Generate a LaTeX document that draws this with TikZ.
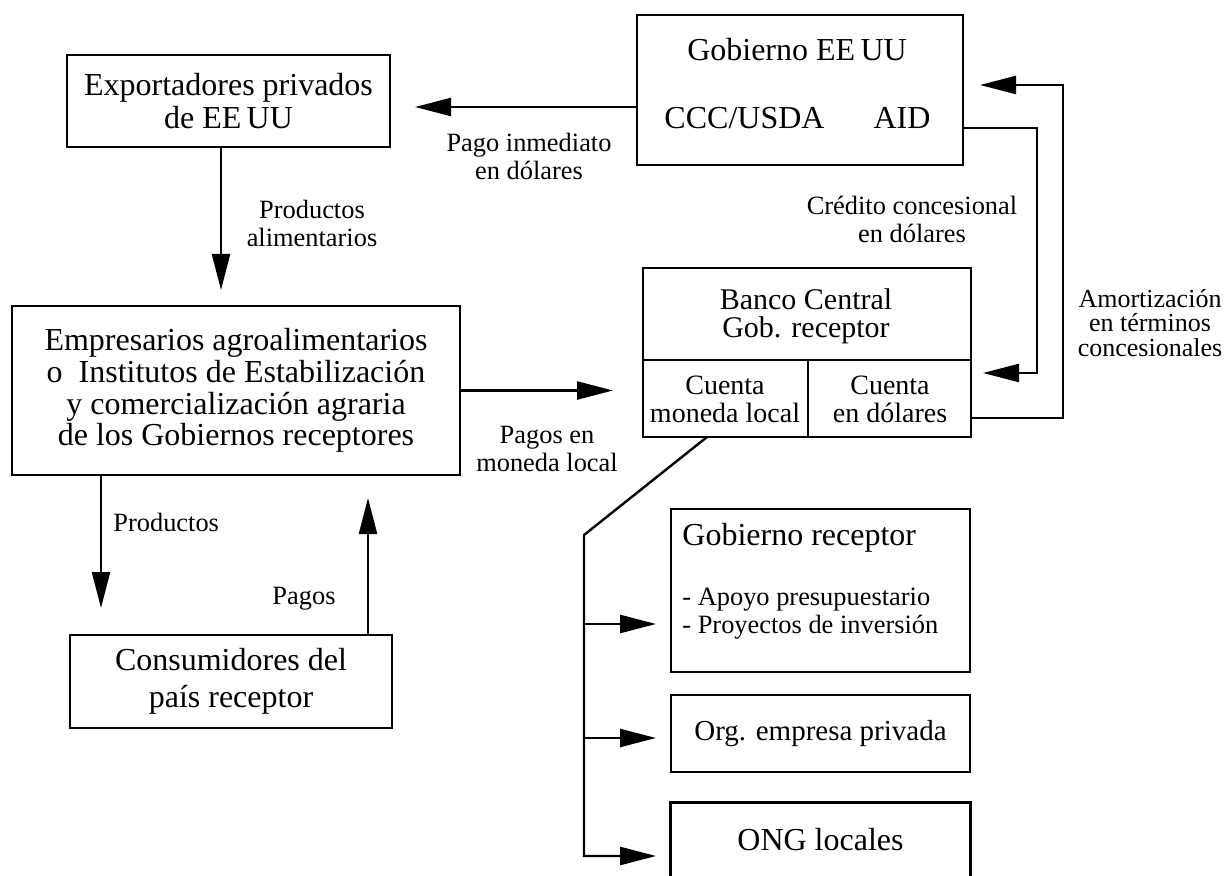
\documentclass[tikz,border=0pt]{standalone}
\usepackage{fontspec}
\setmainfont{Liberation Serif}
\usetikzlibrary{arrows.meta}
\newcommand{\pGrande}{\fontsize{16}{16.5}\selectfont}
\newcommand{\pChica}{\fontsize{13.2}{14}\selectfont}
\newcommand{\pCelda}{\fontsize{14}{14}\selectfont}

\begin{document}
\begin{tikzpicture}[x=0.5pt,y=-0.5pt,
  caja/.style={draw, line width=1.2pt, inner sep=0pt, align=center, font=\pGrande},
  texto/.style={inner sep=0pt, align=center, font=\pGrande},
  rotulo/.style={inner sep=0pt, align=center, font=\pChica},
  linea/.style={line width=1.2pt},
  flecha/.style={line width=1.2pt, -{Triangle[length=18pt,width=9pt]}}]
\useasboundingbox (0,0) rectangle (1225,876);
\node[caja, minimum width=161.5pt, minimum height=46pt] (expo) at (228.5,101) {Exportadores privados\\de EE\,UU};
\node[caja, minimum width=163pt, minimum height=75pt] (gob) at (800,90) {};
\node[texto] (gobTit) at (797,50) {Gobierno EE\,UU};
\node[texto] (gobCcc) at (744.5,118) {CCC/USDA};
\node[texto] (gobAid) at (902,118) {AID};
\node[caja, minimum width=224pt, minimum height=84.5pt, font=\fontsize{16}{15.9}\selectfont] (empr) at (236,390.5) {Empresarios agroalimentarios\\o~ Institutos de Estabilización\\y comercialización agraria\\de los Gobiernos receptores};
\node[caja, minimum width=164pt, minimum height=84.5pt] (banco) at (807,352.5) {};
\node[texto, font=\fontsize{15}{14}\selectfont] (bancoTit) at (806,316) {Banco Central\\Gob. receptor};
\coordinate (bancoDiv) at (808,360);
\draw[linea] (banco.west |- bancoDiv) -- (banco.east |- bancoDiv);
\draw[linea] (bancoDiv) -- (bancoDiv |- banco.south);
\node[texto, font=\pCelda] (cuentaLocal) at (725,399) {Cuenta\\moneda local};
\node[texto, font=\pCelda] (cuentaDolar) at (890,399) {Cuenta\\en dólares};
\node[caja, minimum width=161pt, minimum height=46.5pt, font=\fontsize{16}{18.5}\selectfont] (cons) at (231,681.5) {Consumidores del\\país receptor};
\node[caja, minimum width=149.5pt, minimum height=81.5pt] (gobrec) at (820.5,590.5) {};
\node[texto, anchor=west] (gobrecTit) at (682,538) {Gobierno receptor};
\node[rotulo, anchor=west, align=left] (gobrecUsos) at (682,614) {- Apoyo presupuestario\\- Proyectos de inversión};
\node[caja, minimum width=149.5pt, minimum height=38.5pt, font=\fontsize{14.5}{15}\selectfont] (org) at (820.5,733.5) {Org. empresa privada};
\node[texto, minimum width=149.5pt, minimum height=36.5pt] (ong) at (820.5,839.5) {ONG locales};
\draw[linea] (ong.south west) -- (ong.north west) -- (ong.north east) -- (ong.south east);
\coordinate (pagoTip) at (415,107);
\draw[flecha] (gob.west |- pagoTip) -- (pagoTip);
\node[rotulo] (pagoLbl) at (529,156) {Pago inmediato\\en dólares};
\coordinate (alimTip) at (221,290);
\draw[flecha] (expo.south -| alimTip) -- (alimTip);
\node[rotulo] (alimLbl) at (312,223) {Productos\\alimentarios};
\coordinate (localTip) at (613,390.5);
\draw[flecha] (empr.east) -- (localTip);
\node[rotulo] (localLbl) at (547,449) {Pagos en\\moneda local};
\coordinate (prodTip) at (101,608);
\draw[flecha] (empr.south -| prodTip) -- (prodTip);
\node[rotulo, anchor=west] (prodLbl) at (113,522) {Productos};
\coordinate (pagosTip) at (368,498);
\draw[flecha] (cons.north -| pagosTip) -- (pagosTip);
\node[rotulo] (pagosLbl) at (304,599) {Pagos};
\coordinate (credCodo) at (1037,128);
\coordinate (credTip) at (983,373);
\draw[flecha] (gob.east |- credCodo) -- (credCodo) -- (credCodo |- credTip) -- (credTip);
\node[rotulo] (credLbl) at (912,219) {Crédito concesional\\en dólares};
\coordinate (amorCodo) at (1063,418);
\coordinate (amorTip) at (980,85);
\draw[flecha] (banco.east |- amorCodo) -- (amorCodo) -- (amorCodo |- amorTip) -- (amorTip);
\node[rotulo, font=\fontsize{13}{12.2}\selectfont] (amorLbl) at (1150,323) {Amortización\\en términos\\concesionales};
\coordinate (diagIni) at (707,437);
\coordinate (troncoAlto) at (584,535);
\coordinate (gobrecTip) at (656,624);
\coordinate (orgTip) at (656,738);
\coordinate (ongTip) at (656,856);
\draw[flecha] (diagIni) -- (troncoAlto) -- (troncoAlto |- ongTip) -- (ongTip);
\draw[flecha] (troncoAlto |- gobrecTip) -- (gobrecTip);
\draw[flecha] (troncoAlto |- orgTip) -- (orgTip);
\end{tikzpicture}
\end{document}
